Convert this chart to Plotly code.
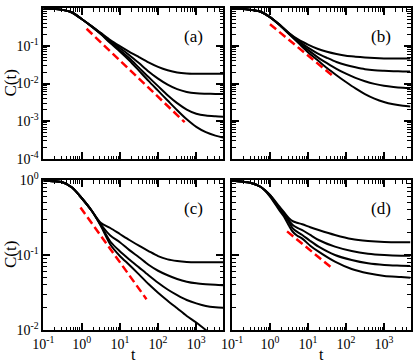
import plotly.graph_objects as go

# ---------------- data (log10 values) ----------------
LOGT = [-1, -0.75, -0.5, -0.25, 0, 0.25, 0.5, 0.75, 1, 1.25, 1.5, 1.75,
        2, 2.25, 2.5, 2.75, 3, 3.25, 3.5, 3.7]

A1 = [-0.01, -0.02, -0.05, -0.12, -0.29, -0.47, -0.66, -0.85, -1.01, -1.16, -1.30, -1.44,
      -1.56, -1.65, -1.71, -1.735, -1.742, -1.745, -1.745, -1.745]
A2 = [-0.01, -0.02, -0.05, -0.12, -0.29, -0.475, -0.67, -0.88, -1.06, -1.25, -1.46, -1.68,
      -1.87, -2.03, -2.15, -2.225, -2.26, -2.27, -2.275, -2.28]
A3 = [-0.01, -0.02, -0.05, -0.12, -0.29, -0.48, -0.68, -0.91, -1.11, -1.33, -1.58, -1.83,
      -2.07, -2.31, -2.52, -2.69, -2.80, -2.85, -2.87, -2.88]
A4 = [-0.01, -0.02, -0.05, -0.12, -0.29, -0.48, -0.69, -0.93, -1.15, -1.39, -1.66, -1.93,
      -2.19, -2.45, -2.71, -2.95, -3.15, -3.29, -3.38, -3.43]

B1 = [-0.01, -0.02, -0.05, -0.10, -0.24, -0.44, -0.66, -0.84, -0.97, -1.08, -1.16, -1.22,
      -1.265, -1.29, -1.31, -1.325, -1.335, -1.34, -1.34, -1.34]
B2 = [-0.01, -0.02, -0.05, -0.10, -0.24, -0.44, -0.67, -0.87, -1.05, -1.20, -1.32, -1.43,
      -1.51, -1.57, -1.62, -1.65, -1.665, -1.675, -1.68, -1.685]
B3 = [-0.01, -0.02, -0.05, -0.10, -0.24, -0.445, -0.68, -0.90, -1.11, -1.30, -1.46, -1.61,
      -1.74, -1.85, -1.94, -2.01, -2.06, -2.09, -2.11, -2.12]
B4 = [-0.01, -0.02, -0.05, -0.10, -0.24, -0.45, -0.69, -0.93, -1.17, -1.38, -1.59, -1.78,
      -1.96, -2.13, -2.28, -2.40, -2.49, -2.55, -2.59, -2.61]

C1 = [-0.01, -0.015, -0.03, -0.10, -0.24, -0.40, -0.57, -0.64, -0.72, -0.80, -0.876, -0.947,
      -1.015, -1.058, -1.08, -1.093, -1.098, -1.098, -1.098, -1.098]
C2 = [-0.01, -0.015, -0.03, -0.10, -0.24, -0.40, -0.59, -0.74, -0.83, -0.935, -1.03, -1.13,
      -1.21, -1.27, -1.32, -1.356, -1.378, -1.39, -1.398, -1.402]
C3 = [-0.01, -0.015, -0.03, -0.10, -0.24, -0.40, -0.60, -0.82, -0.95, -1.06, -1.165, -1.27,
      -1.37, -1.46, -1.535, -1.60, -1.645, -1.68, -1.698, -1.705]
C4 = [-0.01, -0.015, -0.03, -0.10, -0.24, -0.40, -0.61, -0.86, -1.013, -1.133, -1.258, -1.387,
      -1.502, -1.609, -1.711, -1.813, -1.90, -2.0, -2.09, -2.15]

LOGT_D = [-1, -0.75, -0.5, -0.25, 0, 0.24, 0.37, 0.5, 0.6, 0.71, 0.85, 1.06, 1.28,
          1.71, 2.15, 2.58, 3.01, 3.45, 3.7]
D1 = [-0.01, -0.02, -0.04, -0.09, -0.20, -0.35, -0.43, -0.51, -0.55, -0.57, -0.59, -0.63,
      -0.667, -0.733, -0.787, -0.813, -0.827, -0.831, -0.831]
D2 = [-0.01, -0.02, -0.04, -0.09, -0.20, -0.37, -0.45, -0.54, -0.60, -0.636, -0.667, -0.733,
      -0.80, -0.889, -0.947, -0.982, -1.0, -1.009, -1.009]
D3 = [-0.01, -0.02, -0.04, -0.09, -0.21, -0.385, -0.467, -0.564, -0.644, -0.689, -0.733, -0.813,
      -0.889, -1.0, -1.067, -1.111, -1.133, -1.142, -1.147]
D4 = [-0.01, -0.02, -0.04, -0.09, -0.22, -0.40, -0.49, -0.61, -0.69, -0.74, -0.782, -0.876,
      -0.956, -1.089, -1.187, -1.244, -1.28, -1.293, -1.302]

# red dashed guide lines: [start, end] in log10
RED_A_LOGT = [0.13, 2.697]
RED_A_LOGC = [-0.55, -3.025]
RED_B_LOGT = [0.0, 1.69]
RED_B_LOGC = [-0.43, -1.83]
RED_C_LOGT = [-0.03, 1.697]
RED_C_LOGC = [-0.366, -1.589]
RED_D_LOGT = [0.45, 1.635]
RED_D_LOGC = [-0.685, -1.176]

X_TICKVALS = [0.1, 1, 10, 100, 1000]
X_TICKTEXT = ["10<sup>-1</sup>", "10<sup>0</sup>", "10<sup>1</sup>", "10<sup>2</sup>", "10<sup>3</sup>"]
YTOP_TICKVALS = [1, 0.1, 0.01, 0.001, 0.0001]
YTOP_TICKTEXT = ["10<sup>0</sup>", "10<sup>-1</sup>", "10<sup>-2</sup>", "10<sup>-3</sup>", "10<sup>-4</sup>"]
YBOT_TICKVALS = [1, 0.1, 0.01]
YBOT_TICKTEXT = ["10<sup>0</sup>", "10<sup>-1</sup>", "10<sup>-2</sup>"]
PANEL_LABELS = ["(a)", "(b)", "(c)", "(d)"]

# ---------------------------------------------------------------------------
def p10(vals):
    return [10 ** v for v in vals]

FONT = "Liberation Serif"
fig = go.Figure()

panels = [
    ("x", "y", LOGT, [A1, A2, A3, A4], RED_A_LOGT, RED_A_LOGC),
    ("x2", "y2", LOGT, [B1, B2, B3, B4], RED_B_LOGT, RED_B_LOGC),
    ("x3", "y3", LOGT, [C1, C2, C3, C4], RED_C_LOGT, RED_C_LOGC),
    ("x4", "y4", LOGT_D, [D1, D2, D3, D4], RED_D_LOGT, RED_D_LOGC),
]
for xa, ya, lt, curves, rlt, rlc in panels:
    for c in curves:
        fig.add_trace(go.Scatter(x=p10(lt), y=p10(c), xaxis=xa, yaxis=ya, mode="lines",
                                 line=dict(color="black", width=2, shape="spline", smoothing=0.8),
                                 showlegend=False, hoverinfo="skip"))
    fig.add_trace(go.Scatter(x=p10(rlt), y=p10(rlc), xaxis=xa, yaxis=ya, mode="lines",
                             line=dict(color="#ff0000", width=2.5, dash="8px,4px"),
                             showlegend=False, hoverinfo="skip"))

minor_vals = [m * 10 ** e for e in range(-1, 4) for m in range(2, 10)]
minor_y = [m * 10 ** e for e in range(-5, 0) for m in range(2, 10)]

def xax(domain, anchor, labels):
    return dict(type="log", domain=domain, anchor=anchor, range=[-1, 3.699], automargin=False,
                tickmode="array", tickvals=X_TICKVALS, ticktext=X_TICKTEXT,
                showticklabels=labels, ticks="inside", ticklen=7, tickwidth=1.5,
                tickcolor="black", showline=True, linewidth=2, linecolor="black",
                mirror="allticks", showgrid=False, zeroline=False,
                tickfont=dict(family=FONT, size=14, color="black"),
                minor=dict(tickmode="array", tickvals=minor_vals, ticks="inside",
                           ticklen=3.5, tickwidth=1, tickcolor="black", showgrid=False))

def yax(domain, anchor, rng, vals, text, labels):
    return dict(type="log", domain=domain, anchor=anchor, range=rng, automargin=False,
                tickmode="array", tickvals=vals, ticktext=text,
                showticklabels=labels, ticks="inside", ticklen=7, tickwidth=1.5,
                tickcolor="black", showline=True, linewidth=2, linecolor="black",
                mirror="allticks", showgrid=False, zeroline=False,
                tickfont=dict(family=FONT, size=14, color="black"),
                minor=dict(tickmode="array", tickvals=minor_y, ticks="inside",
                           ticklen=3.5, tickwidth=1, tickcolor="black", showgrid=False))

XA = [43.4 / 415, 223 / 415]
XB = [232 / 415, 410.5 / 415]
YT = [1 - 159 / 363, 1 - 8 / 363]
YB = [1 - 330 / 363, 1 - 180 / 363]

fig.update_layout(
    template="none",
    width=415, height=363, margin=dict(l=0, r=0, t=0, b=0, autoexpand=False),
    paper_bgcolor="white", plot_bgcolor="white",
    xaxis=xax(XA, "y", False), xaxis2=xax(XB, "y2", False),
    xaxis3=xax(XA, "y3", True), xaxis4=xax(XB, "y4", True),
    yaxis=yax(YT, "x", [-4, 0], YTOP_TICKVALS, YTOP_TICKTEXT, True),
    yaxis2=yax(YT, "x2", [-4, 0], YTOP_TICKVALS, YTOP_TICKTEXT, False),
    yaxis3=yax(YB, "x3", [-2, 0], YBOT_TICKVALS, YBOT_TICKTEXT, True),
    yaxis4=yax(YB, "x4", [-2, 0], YBOT_TICKVALS, YBOT_TICKTEXT, False),
)

ann = []
for lab, xa, ya in zip(PANEL_LABELS, ["x", "x2", "x3", "x4"], ["y", "y2", "y3", "y4"]):
    ann.append(dict(text=lab, xref=xa + " domain", yref=ya + " domain", x=0.835, y=0.81,
                    xanchor="center", yanchor="middle",
                    showarrow=False, font=dict(family=FONT, size=17, color="black")))
for yc in [1 - 83.5 / 363, 1 - 255 / 363]:
    ann.append(dict(text="C(t)", xref="paper", yref="paper", x=10 / 415, y=yc, textangle=-90,
                    xanchor="center", yanchor="middle",
                    showarrow=False, font=dict(family=FONT, size=17, color="black")))
for xc in [133 / 415, 321 / 415]:
    ann.append(dict(text="t", xref="paper", yref="paper", x=xc, y=1 - 354.5 / 363,
                    xanchor="center", yanchor="middle",
                    showarrow=False, font=dict(family=FONT, size=16, color="black")))
fig.update_layout(annotations=ann)

fig.write_html("out.html", config={"displayModeBar": False},
               post_script="document.body.style.margin='0';document.body.style.padding='0';")
